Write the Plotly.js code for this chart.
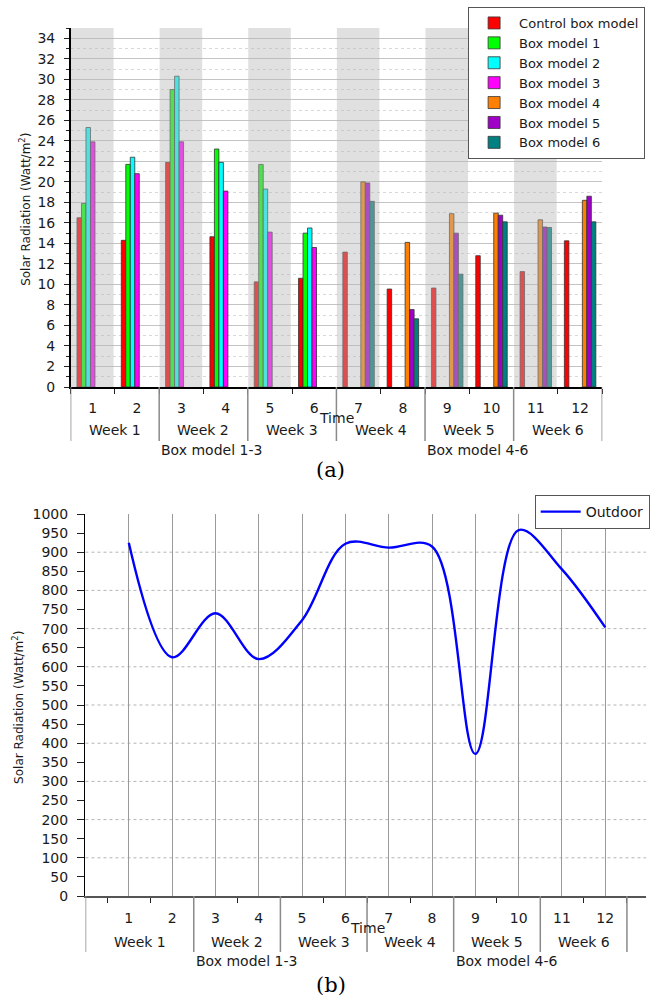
<!DOCTYPE html>
<html><head><meta charset="utf-8">
<script src="https://cdn.plot.ly/plotly-3.0.1.min.js"></script>
<style>body{margin:0;background:#fff}#chart{width:650px;height:998px}</style>
</head><body><div id="chart"></div>
<script>
// ---- data ----
const timeLabels = ['1','2','3','4','5','6','7','8','9','10','11','12'];
const weekLabels = ['Week 1','Week 2','Week 3','Week 4','Week 5','Week 6'];
const boxGroupLabels = ['Box model 1-3','Box model 4-6'];
const seriesNames = ['Control box model','Box model 1','Box model 2','Box model 3','Box model 4','Box model 5','Box model 6'];
const controlBox = [16.5, 14.3, 21.9, 14.65, 10.25, 10.6, 13.15, 9.55, 9.65, 12.8, 11.25, 14.25];
const boxModel1 = [17.9, 21.7, 29.0, 23.2, 21.7, 15.0, null, null, null, null, null, null];
const boxModel2 = [25.3, 22.4, 30.3, 21.9, 19.3, 15.5, null, null, null, null, null, null];
const boxModel3 = [23.9, 20.8, 23.9, 19.1, 15.1, 13.6, null, null, null, null, null, null];
const boxModel4 = [null, null, null, null, null, null, 20.0, 14.1, 16.9, 16.95, 16.3, 18.2];
const boxModel5 = [null, null, null, null, null, null, 19.9, 7.55, 15.0, 16.75, 15.6, 18.6];
const boxModel6 = [null, null, null, null, null, null, 18.1, 6.65, 11.0, 16.1, 15.55, 16.1];
const outdoorName = 'Outdoor';
const outdoor = [925, 625, 740, 620, 722, 922, 912, 915, 372, 958, 855, 703];

// ---- styling / construction ----
const FONT = 'DejaVu Sans';
const TXT = '#1a1a1a';
const xs = timeLabels.map(Number);
const barSeries = [controlBox, boxModel1, boxModel2, boxModel3, boxModel4, boxModel5, boxModel6];
const barColors = ['#ff0000','#00ff00','#00ffff','#ff00ff','#ff8000','#a000c8','#008080'];

const traces = barSeries.map((vals, i) => ({
  type: 'bar', name: seriesNames[i], x: xs, y: vals,
  xaxis: 'x', yaxis: 'y', legend: 'legend',
  marker: {color: barColors[i], line: {color: '#333', width: 0.8}}
}));
traces.push({
  type: 'scatter', mode: 'lines', name: outdoorName, x: xs, y: outdoor,
  xaxis: 'x2', yaxis: 'y2', legend: 'legend2',
  line: {color: '#0000ff', width: 2.4, shape: 'spline', smoothing: 1}
});

// geometry
const H = 998, W = 650;
const py = v => (H - v) / H;   // pixel row -> paper y
const topYMax = 35;
const botXRange = [0, 12.94];

const shapes = [];
const annotations = [];
const ann = (o) => annotations.push(Object.assign({showarrow: false, xanchor: 'center', yanchor: 'middle'}, o));

// gray bands (above bars, translucent) on alternate categories
xs.forEach((c, i) => {
  if (i % 2 === 0) shapes.push({type: 'rect', xref: 'x', yref: 'y', x0: c - 0.49, x1: c + 0.47,
    y0: 0, y1: topYMax, layer: 'above', fillcolor: 'rgba(184,184,184,0.43)', line: {width: 0}});
});

// week boundaries
const weekBounds = weekLabels.map((w, i) => xs[2 * i] - 0.5).concat([xs[xs.length - 1] + 0.5]);
const labFont = {family: FONT, size: 14, color: TXT};

// top dividers & week labels
weekBounds.forEach(b => shapes.push({type: 'line', xref: 'x', yref: 'paper', x0: b, x1: b,
  y0: py(387), y1: py(441), line: {color: '#8a8a8a', width: 1.5}}));
weekLabels.forEach((w, i) => ann({text: w, xref: 'x', yref: 'paper',
  x: (weekBounds[i] + weekBounds[i + 1]) / 2, y: py(430), font: labFont}));
boxGroupLabels.forEach((g, i) => ann({text: g, xref: 'x', yref: 'paper',
  x: weekBounds[i * 3 + 1], y: py(450), xanchor: 'left', font: labFont}));

// bottom dividers & week labels (first week starts at the axis origin)
const botBounds = weekBounds.map((b, i) => i === 0 ? botXRange[0] : b);
botBounds.forEach(b => shapes.push({type: 'line', xref: 'x2', yref: 'paper', x0: b, x1: b,
  y0: py(896), y1: py(952), line: {color: '#8a8a8a', width: 1.5}}));
weekLabels.forEach((w, i) => ann({text: w, xref: 'x2', yref: 'paper',
  x: (botBounds[i] + botBounds[i + 1]) / 2, y: py(942), font: labFont}));
boxGroupLabels.forEach((g, i) => ann({text: g, xref: 'x2', yref: 'paper',
  x: botBounds[i * 3 + 1], y: py(961), xanchor: 'left', font: labFont}));

// bottom dotted horizontal gridlines every 100
for (let v = 100; v < 1000; v += 100) shapes.push({type: 'line', xref: 'x2 domain', yref: 'y2',
  x0: 0, x1: 1, y0: v, y1: v, layer: 'below', line: {color: '#b4b4b4', width: 1, dash: 'dot'}});

// axis titles / labels as annotations
const yTitle = 'Solar Radiation (Watt/m<sup>2</sup>)';
ann({text: yTitle, textangle: -90, xref: 'paper', yref: 'paper', x: 25 / W, y: py(209),
  font: {family: FONT, size: 12, color: TXT}});
ann({text: yTitle, textangle: -90, xref: 'paper', yref: 'paper', x: 18 / W, y: py(707),
  font: {family: FONT, size: 12, color: TXT}});
ann({text: 'Time', xref: 'x', yref: 'paper', x: 6.5, y: py(418), font: labFont});
ann({text: 'Time', xref: 'x2', yref: 'paper', x: 6.5, y: py(928), font: labFont});
ann({text: '(a)', xref: 'paper', yref: 'paper', x: 333 / W, y: py(470),
  font: {family: 'DejaVu Serif', size: 21, color: '#000'}});
ann({text: '(b)', xref: 'paper', yref: 'paper', x: 333 / W, y: py(985),
  font: {family: 'DejaVu Serif', size: 21, color: '#000'}});

const tickFont = {family: FONT, size: 14, color: TXT};

const layout = {
  width: W, height: H, margin: {l: 0, r: 0, t: 0, b: 0},
  paper_bgcolor: '#fff', plot_bgcolor: '#fff',
  barmode: 'group', bargap: 0.29, bargroupgap: 0,
  showlegend: true,
  xaxis: {domain: [71 / W, 606 / W], range: [0.5, 12.5], tickmode: 'array', tickvals: xs, ticktext: timeLabels,
    showgrid: false, zeroline: false, showline: true, linecolor: '#000', linewidth: 1.5,
    ticks: 'outside', ticklen: 8, tickcolor: 'rgba(0,0,0,0)', tickfont: tickFont,
    minor: {tick0: 0.5, dtick: 1, ticks: 'outside', ticklen: 5, tickcolor: '#222', showgrid: false}},
  yaxis: {domain: [py(387), py(28)], range: [0, topYMax], dtick: 2, tick0: 0,
    showgrid: true, gridcolor: '#c4c4c4', gridwidth: 1, zeroline: false,
    showline: true, linecolor: '#000', linewidth: 1.5, ticks: 'outside', ticklen: 5, tickcolor: '#222',
    tickfont: tickFont, ticklabelstandoff: 6,
    minor: {dtick: 1, ticks: 'outside', ticklen: 3, tickcolor: '#222', showgrid: true, gridcolor: '#d8d8d8', griddash: 'dot'}},
  xaxis2: {domain: [86 / W, 1], range: botXRange, tickmode: 'array', tickvals: xs, ticktext: timeLabels,
    anchor: 'y2', showgrid: true, gridcolor: '#9a9a9a', gridwidth: 1, zeroline: false,
    showline: true, linecolor: '#555', linewidth: 2,
    ticks: 'outside', ticklen: 8, tickcolor: 'rgba(0,0,0,0)', tickfont: tickFont,
    minor: {tick0: 0.5, dtick: 1, ticks: 'outside', ticklen: 5, tickcolor: '#222', showgrid: false}},
  yaxis2: {domain: [py(896), py(514)], range: [0, 1000], dtick: 50, tick0: 0, anchor: 'x2',
    showgrid: false, zeroline: false, showline: true, linecolor: '#000', linewidth: 1.5,
    ticks: 'outside', ticklen: 7, tickcolor: '#222', tickfont: tickFont, ticklabelstandoff: 6},
  legend: {x: 471 / W, y: py(7), xanchor: 'left', yanchor: 'top', bgcolor: '#fff',
    bordercolor: '#555', borderwidth: 1, font: {family: FONT, size: 13, color: TXT},
    tracegroupgap: 0, itemwidth: 40},
  legend2: {x: 538 / W, y: py(495), xanchor: 'left', yanchor: 'top', bgcolor: '#fff',
    bordercolor: '#555', borderwidth: 1, font: {family: FONT, size: 14, color: TXT}, itemwidth: 40},
  shapes: shapes, annotations: annotations
};

Plotly.newPlot('chart', traces, layout, {displayModeBar: false, staticPlot: true});
</script></body></html>
